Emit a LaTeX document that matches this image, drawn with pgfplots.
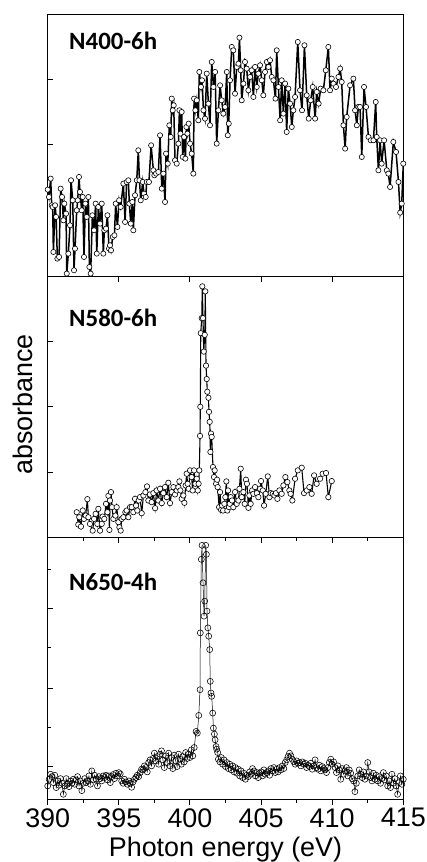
\documentclass[border=0pt]{standalone}
\usepackage{fontspec}
\setmainfont{Liberation Sans}
\newfontfamily\carlito{Carlito}
\usepackage{pgfplots}
\usepackage{pgfplotstable}
\pgfplotsset{compat=1.18}

% N400-6h, absorbance in arbitrary units
\pgfplotstableread{
E A
390.00 260
390.09 238
390.21 293
390.28 213
390.35 208
390.40 73
390.52 213
390.59 178
390.68 53
390.80 58
390.91 263
391.01 238
391.10 168
391.17 218
391.29 188
391.34 8
391.45 68
391.57 153
391.64 288
391.76 228
391.85 18
391.92 83
392.04 198
392.11 228
392.20 298
392.27 253
392.39 198
392.46 238
392.55 58
392.65 218
392.74 178
392.86 238
392.93 28
393.02 8
393.14 183
393.26 138
393.37 218
393.45 68
393.56 208
393.68 158
393.80 218
393.91 68
393.98 138
394.10 143
394.20 183
394.31 83
394.38 93
394.45 78
394.57 118
394.69 123
394.78 218
394.90 148
395.02 228
395.13 208
395.32 278
395.44 163
395.55 283
395.67 288
395.74 218
395.84 158
395.95 223
396.02 138
396.14 243
396.26 288
396.37 378
396.45 288
396.54 228
396.68 283
396.77 248
396.89 238
396.96 283
397.12 283
397.27 393
397.43 318
397.50 303
397.62 308
397.78 313
397.90 423
398.02 263
398.13 308
398.25 223
398.32 368
398.44 338
398.55 453
398.65 418
398.72 533
398.79 498
398.86 513
398.95 348
399.07 338
399.19 398
399.26 498
399.33 428
399.42 493
399.49 358
399.59 418
399.68 353
399.75 448
399.82 428
399.91 458
400.01 398
400.12 368
400.24 308
400.29 533
400.38 498
400.48 528
400.59 468
400.66 613
400.78 568
400.85 588
400.95 498
401.06 473
401.18 608
401.30 518
401.41 453
401.53 643
401.65 568
401.77 613
401.88 398
402.00 498
402.12 573
402.23 528
402.35 488
402.47 508
402.59 613
402.66 423
402.73 458
402.82 588
402.94 688
403.05 678
403.17 548
403.29 628
403.41 638
403.48 716
403.57 618
403.64 528
403.76 578
403.87 643
403.99 623
404.11 558
404.23 598
404.34 618
404.46 538
404.58 628
404.70 568
404.81 608
404.93 633
405.05 588
405.16 543
405.28 613
405.40 643
405.52 628
405.63 648
405.75 598
405.87 588
406.01 533
406.10 678
406.22 568
406.34 468
406.45 588
406.57 488
406.69 578
406.80 433
406.92 563
407.04 518
407.16 448
407.27 498
407.39 538
407.58 703
407.74 558
407.88 498
408.05 693
408.21 543
408.35 473
408.49 528
408.63 568
408.80 473
408.91 553
409.05 518
409.19 563
409.38 558
409.55 618
409.73 688
409.85 558
409.97 593
410.09 578
410.27 568
410.44 598
410.56 623
410.67 583
410.79 453
410.91 383
411.02 478
411.26 573
411.49 593
411.61 498
411.73 453
411.84 508
411.96 508
412.08 358
412.24 568
412.38 508
412.55 418
412.71 408
412.90 408
413.06 523
413.13 418
413.25 318
413.37 408
413.48 338
413.65 408
413.84 318
413.95 308
414.07 268
414.30 403
414.49 373
414.66 283
414.78 191
414.89 218
415.00 338
}\topdata

% N580-6h
\pgfplotstableread{
E A
392.04 75
392.15 38
392.22 60
392.34 32
392.46 80
392.55 55
392.67 65
392.79 114
392.86 60
392.97 40
393.16 20
393.26 55
393.37 70
393.49 40
393.56 85
393.68 20
393.80 40
393.86 62
393.98 55
394.10 100
394.20 75
394.27 124
394.34 22
394.38 110
394.45 135
394.52 90
394.62 55
394.76 65
394.85 90
394.97 45
395.04 30
395.13 20
395.20 55
395.32 60
395.46 75
395.55 80
395.67 60
395.79 90
395.91 90
396.02 75
396.14 115
396.21 95
396.30 80
396.40 110
396.49 120
396.61 72
396.73 125
396.87 135
396.98 152
397.08 110
397.19 128
397.31 105
397.43 132
397.55 87
397.66 140
397.78 110
397.90 145
398.02 102
398.13 132
398.25 150
398.37 120
398.48 163
398.60 102
398.72 135
398.84 150
398.95 128
399.07 140
399.19 150
399.26 167
399.33 140
399.42 115
399.54 125
399.61 103
399.70 155
399.77 190
399.84 160
399.91 145
400.01 200
400.12 180
400.19 140
400.29 200
400.38 160
400.48 175
400.55 140
400.61 160
400.66 200
400.71 303
400.73 390
400.76 610
400.83 655
400.87 750
400.92 655
400.97 555
401.04 605
401.08 735
401.13 513
401.18 473
401.22 435
401.30 417
401.34 375
401.39 345
401.44 255
401.48 310
401.53 300
401.62 210
401.69 180
401.74 200
401.84 160
401.91 172
401.95 150
402.05 90
402.12 135
402.19 82
402.26 95
402.33 80
402.42 100
402.49 120
402.56 167
402.63 80
402.68 140
402.75 90
402.80 100
402.87 120
402.96 110
403.05 90
403.17 135
403.29 100
403.41 110
403.48 145
403.57 205
403.64 120
403.76 135
403.85 100
403.94 172
404.01 160
404.11 88
404.18 125
404.27 100
404.37 140
404.46 130
404.58 150
404.70 132
404.81 120
404.93 145
405.00 168
405.12 140
405.21 95
405.33 130
405.47 182
405.59 120
405.68 132
405.82 130
405.94 125
406.05 132
406.15 115
406.29 140
406.45 130
406.57 155
406.71 180
406.85 165
406.99 140
407.08 130
407.20 110
407.39 175
407.58 200
407.86 208
408.02 132
408.21 140
408.40 150
408.56 130
408.73 185
408.91 160
409.15 175
409.33 190
409.57 192
409.73 120
409.97 168
}\middata

% N650-4h
\pgfplotstableread{
E A
390.0 40
390.1 60
390.2 75
390.3 68
390.4 50
390.5 72
390.6 35
390.7 55
390.8 42
390.9 62
391.0 48
391.1 15
391.2 40
391.3 62
391.4 45
391.5 38
391.6 55
391.7 48
391.8 60
391.9 45
392.0 58
392.1 68
392.2 40
392.3 55
392.4 26
392.5 48
392.6 62
392.7 50
392.8 55
392.9 70
393.0 45
393.1 85
393.2 58
393.3 72
393.4 60
393.5 40
393.6 68
393.7 62
393.8 55
393.9 70
394.0 65
394.1 72
394.2 58
394.3 70
394.4 50
394.5 68
394.6 74
394.7 62
394.8 78
394.9 70
395.0 80
395.1 76
395.2 55
395.3 48
395.4 60
395.5 52
395.6 45
395.7 55
395.8 48
395.9 36
396.0 52
396.1 60
396.2 65
396.3 72
396.4 68
396.5 80
396.6 90
396.7 88
396.8 100
396.9 95
397.0 82
397.1 110
397.2 118
397.3 100
397.4 122
397.5 138
397.6 115
397.7 128
397.8 105
397.9 135
398.0 145
398.1 118
398.2 95
398.3 130
398.4 110
398.5 138
398.6 100
398.7 125
398.8 92
398.9 132
399.0 115
399.1 98
399.2 135
399.3 120
399.4 105
399.5 128
399.6 112
399.7 140
399.8 122
399.9 135
400.0 125
400.1 148
400.2 130
400.3 155
400.43 203
400.52 198
400.62 251
400.71 328
400.73 498
400.80 718
400.85 760
400.92 648
400.99 548
401.04 593
401.11 760
401.16 733
401.20 563
401.26 513
401.32 488
401.39 448
401.43 353
401.48 318
401.53 308
401.60 258
401.65 213
401.72 195
401.77 178
401.84 158
401.88 150
401.95 140
402.0 120
402.1 112
402.2 125
402.3 105
402.4 118
402.5 98
402.6 110
402.7 92
402.8 105
402.9 88
403.0 100
403.1 82
403.2 95
403.3 78
403.4 90
403.5 70
403.6 85
403.7 65
403.8 78
403.9 60
404.0 72
404.1 68
404.2 82
404.3 75
404.4 92
404.5 85
404.6 70
404.7 80
404.8 65
404.9 78
405.0 82
405.1 70
405.2 88
405.3 75
405.4 80
405.5 85
405.6 72
405.7 92
405.8 85
405.9 95
406.0 80
406.1 90
406.2 82
406.3 95
406.4 88
406.5 100
406.6 92
406.7 110
406.8 118
406.9 128
407.0 138
407.1 130
407.2 120
407.3 112
407.4 105
407.5 115
407.6 108
407.7 110
407.8 100
407.9 112
408.0 105
408.1 108
408.2 95
408.3 102
408.4 98
408.5 108
408.6 90
408.7 100
408.8 118
408.9 95
409.0 90
409.1 102
409.2 85
409.3 98
409.4 92
409.5 88
409.6 80
409.7 95
409.8 110
409.9 120
410.0 105
410.1 112
410.2 95
410.3 80
410.4 100
410.5 88
410.6 60
410.7 92
410.8 75
410.9 85
411.0 95
411.1 70
411.2 88
411.3 78
411.4 62
411.5 55
411.6 23
411.7 48
411.8 70
411.9 88
412.0 75
412.1 65
412.2 82
412.3 60
412.4 70
412.5 110
412.6 82
412.7 65
412.8 55
412.9 78
413.0 60
413.1 72
413.2 55
413.3 68
413.4 48
413.5 62
413.6 80
413.7 58
413.8 70
413.9 40
414.0 55
414.1 35
414.2 75
414.3 48
414.4 62
414.5 40
414.6 15
414.7 50
414.8 70
414.9 45
415.0 60
}\botdata

\pgfplotsset{
  panel/.style={
    scale only axis, width=355.6bp,
    xmin=390, xmax=415,
    axis line style={line width=1.1bp},
    tick style={black, line width=1bp},
    major tick length=5.5bp, minor tick length=3.3bp,
  },
}

\begin{document}
\begin{tikzpicture}
\path[use as bounding box] (-47.7bp,-62.7bp) rectangle (379.3bp,799.3bp);

% top panel
\begin{axis}[panel, at={(0,523bp)}, height=262bp,
  ymin=0, ymax=786,
  xtick=\empty, ytick={0,394,590}, yticklabels={},
  ytick pos=left, tick align=inside]
\addplot[black, line width=1.5bp, mark=*, mark size=2.6bp,
  mark options={fill=white, line width=0.6bp}] table {\topdata};
\end{axis}

% middle panel
\begin{axis}[panel, at={(0,262bp)}, height=261bp,
  ymin=0, ymax=780,
  xtick={395,400,405,410}, xticklabels={}, xtick pos=top,
  ytick={194,390,585}, yticklabels={}, ytick pos=left,
  tick align=inside]
\addplot[black, line width=1.1bp, mark=*, mark size=2.7bp,
  mark options={fill=white, line width=0.6bp}] table {\middata};
\end{axis}

% bottom panel: data and lower ticks
\begin{axis}[panel, at={(0,0)}, height=262bp,
  ymin=0, ymax=784,
  xtick={390,395,...,415}, minor x tick num=1, xtick pos=bottom,
  tick align=outside, ytick=\empty,
  /pgf/number format/assume math mode=true,
  xticklabel style={font=\fontsize{27}{30}\selectfont}]
\addplot[black, line width=0.5bp, mark=o, mark size=3bp,
  mark options={line width=0.55bp}] table {\botdata};
\end{axis}
% bottom panel: upper and left ticks
\begin{axis}[panel, at={(0,0)}, height=262bp,
  ymin=0, ymax=784,
  xtick={390,395,...,415}, minor x tick num=1, xticklabels={}, xtick pos=top,
  ytick={98,333,570}, minor ytick={216,453,688}, yticklabels={}, ytick pos=left,
  tick align=inside]
\end{axis}

\node[font=\fontsize{27}{30}\selectfont, anchor=base] at (177.8bp,-56.7bp) {Photon energy (eV)};
\node[font=\fontsize{27}{30}\selectfont, rotate=90, anchor=base] at (-15.2bp,394.8bp) {absorbance};

\node[font=\carlito\bfseries\fontsize{25}{28}\selectfont, anchor=base west] at (18bp,749.3bp) {N400-6h};
\node[font=\carlito\bfseries\fontsize{25}{28}\selectfont, anchor=base west] at (18bp,472.3bp) {N580-6h};
\node[font=\carlito\bfseries\fontsize{25}{28}\selectfont, anchor=base west] at (18bp,208.6bp) {N650-4h};
\end{tikzpicture}
\end{document}
